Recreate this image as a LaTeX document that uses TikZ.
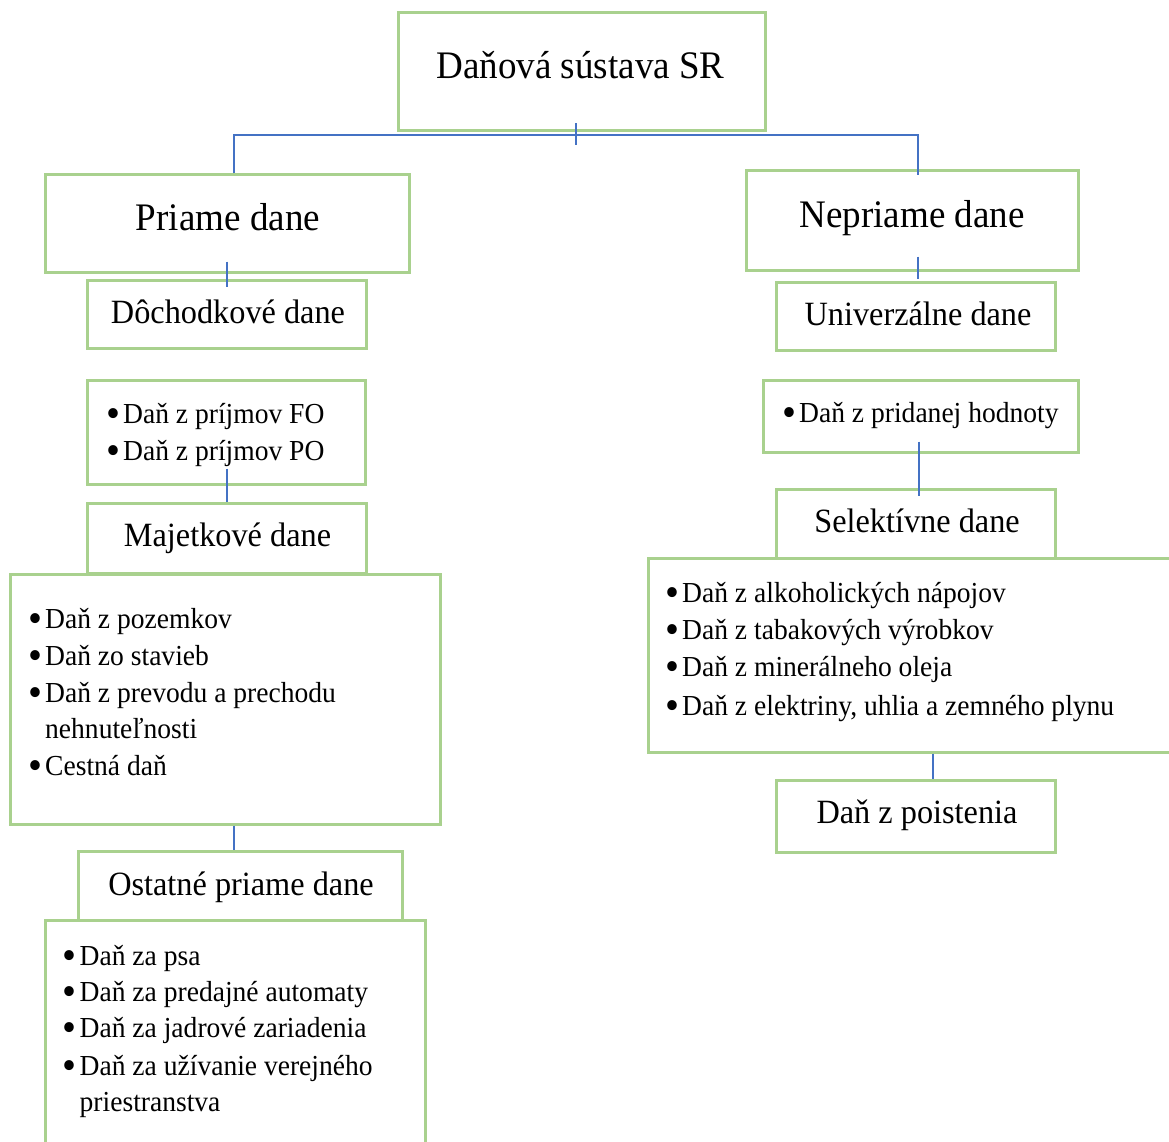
\documentclass[tikz,border=0pt]{standalone}
\usepackage{fontspec}
\setmainfont{Liberation Serif}[FakeStretch=0.95]
\usetikzlibrary{calc}
\definecolor{boxgreen}{HTML}{A9D18E}
\definecolor{linkblue}{HTML}{4472C4}
\newcommand\itembul{\llap{\smash{\raisebox{-4pt}{\scalebox{1.45}{\textbullet}}}\hspace{3pt}}}
\begin{document}
\begin{tikzpicture}[x=1pt,y=-1pt,
  box/.style={draw=boxgreen, line width=3pt, fill=white, rectangle, inner sep=0pt},
  conn/.style={draw=linkblue, line width=1.5pt},
  big/.style={anchor=base, inner sep=0pt, font=\fontsize{39}{45}\selectfont},
  mid/.style={anchor=base, inner sep=0pt, font=\fontsize{34}{40}\selectfont},
  item/.style={anchor=base west, inner sep=0pt, font=\fontsize{29}{35}\selectfont}]
\clip (0,0) rectangle (1169,1142);
\fill[white] (0,0) rectangle (1169,1142);
% boxes
\node[box, minimum width=367pt, minimum height=118pt] (title) at (581.5,72) {};
\node[box, minimum width=364pt, minimum height=97pt] (priame) at (227,223.5) {};
\node[box, minimum width=332pt, minimum height=99pt] (nepriame) at (912,220.5) {};
\node[box, minimum width=279pt, minimum height=68pt] (dochod) at (226.5,314) {};
\node[box, minimum width=279pt, minimum height=68pt] (univ) at (915.5,316) {};
\node[box, minimum width=278pt, minimum height=104pt] (pfo) at (226,432) {};
\node[box, minimum width=315pt, minimum height=72pt] (dph) at (920.5,416) {};
\node[box, minimum width=279pt, minimum height=70pt] (majet) at (226.5,538) {};
\node[box, minimum width=430pt, minimum height=250pt] (majlist) at (225,699) {};
\node[box, minimum width=279pt, minimum height=69pt] (selek) at (915.5,523.5) {};
\node[box, minimum width=532pt, minimum height=194pt] (sellist) at (914,655) {};
\node[box, minimum width=279pt, minimum height=72pt] (poist) at (915.5,816) {};
\node[box, minimum width=324pt, minimum height=69pt] (ostat) at (240,885.5) {};
\node[box, minimum width=380pt, minimum height=240pt] (ostlist) at (235,1040) {};
% connectors
\draw[conn] ($(title.south)+(-5.5,-9)$) -- ++(0,22);
\draw[conn] ($(priame.north)+(7,0)$) |- ($(title.south)+(0,2.5)$) -| ($(nepriame.north)+(6,6)$);
\draw[conn] ($(priame.south)+(0,-12)$) -- ($(priame.south |- dochod.north)+(0,8)$);
\draw[conn] ($(nepriame.south)+(6,-15)$) -- ($(nepriame.south |- univ.north)+(6,-2)$);
\draw[conn] ($(pfo.south)+(1,-17)$) -- ($(pfo.south |- majet.north)+(1,0)$);
\draw[conn] ($(majlist.south)+(9,0)$) -- ($(majlist.south |- ostat.north)+(9,0)$);
\draw[conn] ($(dph.south)+(-1.5,-12)$) -- ($(dph.south |- selek.north)+(-1.5,8)$);
\draw[conn] ($(sellist.south)+(19,0)$) -- ($(sellist.south |- poist.north)+(19,0)$);
% headings
\node[big] (t-title) at (580.5,79) {Daňová sústava SR};
\node[big] (t-priame) at (228,230) {Priame dane};
\node[big] (t-nepriame) at (912,227) {Nepriame dane};
\node[mid] (t-dochod) at (228,323) {Dôchodkové dane};
\node[mid] (t-univ) at (918,325) {Univerzálne dane};
\node[mid] (t-majet) at (227.5,546) {Majetkové dane};
\node[mid] (t-selek) at (917,532) {Selektívne dane};
\node[mid] (t-poist) at (917,823) {Daň z poistenia};
\node[mid] (t-ostat) at (241,895) {Ostatné priame dane};
% item lists
\node[item] (p1) at (123,423) {\itembul Daň z príjmov FO};
\node[item] (p2) at (123,460) {\itembul Daň z príjmov PO};
\node[item] (m1) at (45,628) {\itembul Daň z pozemkov};
\node[item] (m2) at (45,665) {\itembul Daň zo stavieb};
\node[item] (m3) at (45,702) {\itembul Daň z prevodu a prechodu};
\node[item] (m4) at (45,738) {nehnuteľnosti};
\node[item] (m5) at (45,775) {\itembul Cestná daň};
\node[item] (o1) at (79.5,965) {\itembul Daň za psa};
\node[item] (o2) at (79.5,1001) {\itembul Daň za predajné automaty};
\node[item] (o3) at (79.5,1037) {\itembul Daň za jadrové zariadenia};
\node[item] (o4) at (79.5,1075) {\itembul Daň za užívanie verejného};
\node[item] (o5) at (79.5,1111) {priestranstva};
\node[item] (d1) at (799,422) {\itembul Daň z pridanej hodnoty};
\node[item] (s1) at (682,602) {\itembul Daň z alkoholických nápojov};
\node[item] (s2) at (682,639) {\itembul Daň z tabakových výrobkov};
\node[item] (s3) at (682,676) {\itembul Daň z minerálneho oleja};
\node[item] (s4) at (682,715) {\itembul Daň z elektriny, uhlia a zemného plynu};
\end{tikzpicture}
\end{document}
